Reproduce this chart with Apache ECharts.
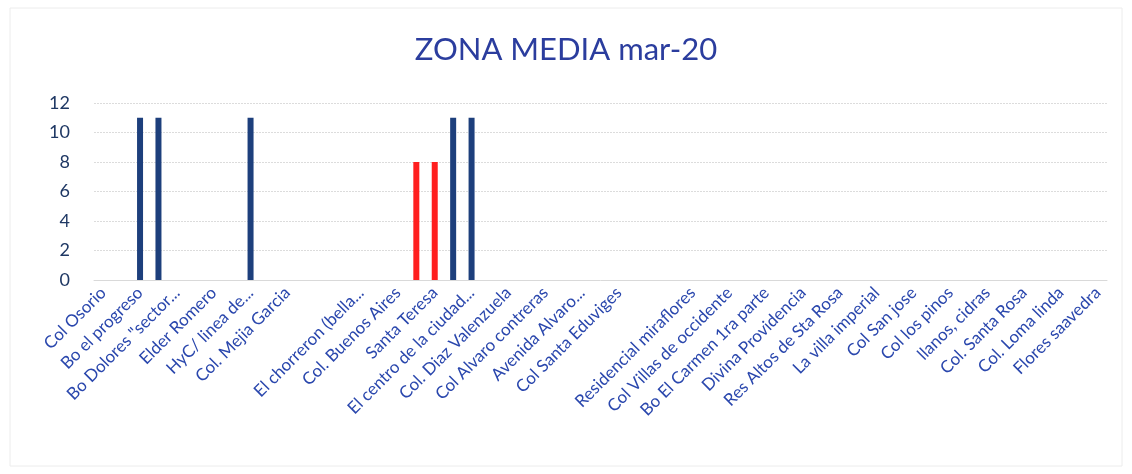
<!DOCTYPE html>
<html>
<head>
<meta charset="utf-8">
<title>ZONA MEDIA mar-20</title>
<script src="https://cdn.jsdelivr.net/npm/echarts@6/dist/echarts.min.js"></script>
<style>
  html, body { margin: 0; padding: 0; background: #ffffff; }
  #chart { width: 1132px; height: 474px; }
</style>
</head>
<body>
<div id="chart"></div>
<script>
// Neighbourhoods, one slot per row of the sheet; every other name is shown on the axis
const categories = [
  'Col Osorio', '', 'Bo el progreso', '', 'Bo Dolores "sector...', '', 'Elder Romero', '',
  'HyC/ linea de...', '', 'Col. Mejia Garcia', '', '', '', 'El chorreron (bella...', '',
  'Col. Buenos Aires', '', 'Santa Teresa', '', 'El centro de la ciudad...', '', 'Col. Diaz Valenzuela', '',
  'Col Alvaro contreras', '', 'Avenida Alvaro...', '', 'Col Santa Eduviges', '', '', '',
  'Residencial miraflores', '', 'Col Villas de occidente', '', 'Bo El Carmen 1ra parte', '', 'Divina Providencia', '',
  'Res Altos de Sta Rosa', '', 'La villa imperial', '', 'Col San jose', '', 'Col los pinos', '',
  'llanos, cidras', '', 'Col. Santa Rosa', '', 'Col. Loma linda', '', 'Flores saavedra'
];

// Count per neighbourhood
const values = [
  0, 0, 11, 11, 0, 0, 0, 0,
  11, 0, 0, 0, 0, 0, 0, 0,
  0, 8, 8, 11, 11, 0, 0, 0,
  0, 0, 0, 0, 0, 0, 0, 0,
  0, 0, 0, 0, 0, 0, 0, 0,
  0, 0, 0, 0, 0, 0, 0, 0,
  0, 0, 0, 0, 0, 0, 0
];

// Rows flagged in red
const flagged = [17, 18];

const yTicks = [0, 2, 4, 6, 8, 10, 12];

const BLUE = '#1d3f7c';
const RED = '#ff1f1f';
const FONT = 'Lato, "Open Sans", sans-serif';

const chart = echarts.init(document.getElementById('chart'), null, { renderer: 'canvas' });

chart.setOption({
  animation: false,
  backgroundColor: '#ffffff',
  title: {
    text: 'ZONA MEDIA mar-20',
    left: 'center',
    top: 29,
    textStyle: { fontFamily: FONT, fontSize: 31, fontWeight: 'normal', color: '#2b3d9e' }
  },
  graphic: [{
    type: 'rect',
    shape: { x: 10, y: 8, width: 1112, height: 458 },
    style: { fill: 'none', stroke: '#ececec', lineWidth: 1 },
    silent: true
  }],
  grid: { left: 94, right: 25, top: 103, bottom: 194, containLabel: false },
  xAxis: {
    type: 'category',
    data: categories,
    axisTick: { show: false },
    axisLine: { lineStyle: { color: '#d9d9d9', width: 1 } },
    axisLabel: {
      interval: 1,
      rotate: 45,
      margin: 10,
      fontFamily: FONT,
      fontSize: 17,
      color: '#2a47ad'
    }
  },
  yAxis: {
    type: 'value',
    min: yTicks[0],
    max: yTicks[yTicks.length - 1],
    interval: 2,
    axisLine: { show: false },
    axisTick: { show: false },
    axisLabel: { fontFamily: FONT, fontSize: 18, color: '#1f3864', margin: 24 },
    splitLine: { lineStyle: { color: '#dcdcdc', width: 1, type: [2, 1] } }
  },
  series: [{
    type: 'bar',
    barWidth: 6,
    data: values.map((v, i) => ({
      value: v,
      itemStyle: { color: flagged.includes(i) ? RED : BLUE }
    }))
  }]
});
</script>
</body>
</html>
